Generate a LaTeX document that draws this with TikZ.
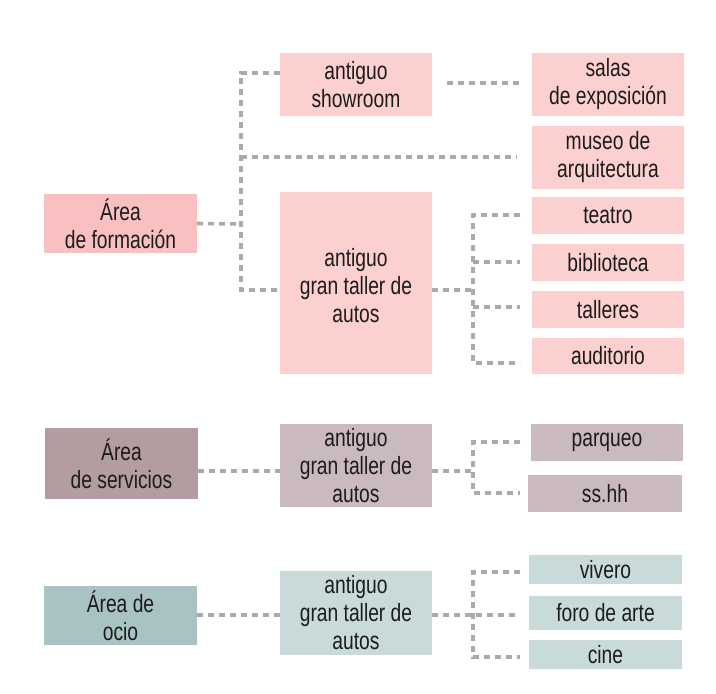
\documentclass[tikz,border=0pt]{standalone}
\usepackage{fontspec}
\setmainfont[FakeStretch=0.77]{Liberation Sans}
\definecolor{pinkA}{HTML}{F8C0C1}
\definecolor{pinkB}{HTML}{FDD0D0}
\definecolor{mauveA}{HTML}{B49DA1}
\definecolor{mauveB}{HTML}{CBBABD}
\definecolor{tealA}{HTML}{A9C3C3}
\definecolor{tealB}{HTML}{C9DADA}
\definecolor{txt}{HTML}{1C1C1C}
\definecolor{dash}{HTML}{AAAAAA}
\begin{document}
\begin{tikzpicture}[x=1pt,y=-1pt,
  box/.style={rectangle, inner sep=0pt, align=center, text=txt,
    font=\fontsize{25}{28}\selectfont},
  dl/.style={draw=dash, line width=3.6pt, dash pattern=on 6pt off 5pt}]
\useasboundingbox[fill=white] (0,0) rectangle (716,694);
% --- formacion ---
\node[box, fill=pinkA, minimum width=153pt, minimum height=59pt] (af) at (120.5,223.5) {Área\\de formación};
\node[box, fill=pinkB, minimum width=152pt, minimum height=63pt] (sh) at (356,84.5) {antiguo\\showroom};
\node[box, fill=pinkB, minimum width=152pt, minimum height=63pt] (sal) at (608,84.5) {salas\\de exposición};
\node[box, fill=pinkB, minimum width=152pt, minimum height=63pt] (mus) at (608,157.5) {museo de\\arquitectura};
\node[box, fill=pinkB, minimum width=152pt, minimum height=182pt] (gt1) at (356,283) {\raisebox{-12pt}[0pt][0pt]{\begin{tabular}{@{}c@{}}antiguo\\gran taller de\\autos\end{tabular}}};
\node[box, fill=pinkB, minimum width=152pt, minimum height=37pt] (tea) at (608,215.5) {teatro};
\node[box, fill=pinkB, minimum width=152pt, minimum height=37pt] (bib) at (608,262.5) {biblioteca};
\node[box, fill=pinkB, minimum width=152pt, minimum height=37pt] (tal) at (608,309.5) {talleres};
\node[box, fill=pinkB, minimum width=152pt, minimum height=36pt] (aud) at (608,356) {auditorio};
% --- servicios ---
\node[box, fill=mauveA, minimum width=153pt, minimum height=71pt] (as) at (121.5,463.5) {Área\\de servicios};
\node[box, fill=mauveB, minimum width=152pt, minimum height=83pt] (gt2) at (356,465.5) {antiguo\\gran taller de\\autos};
\node[box, fill=mauveB, minimum width=152pt, minimum height=37pt] (par) at (607,442.5) {parqueo};
\node[box, fill=mauveB, minimum width=154pt, minimum height=37pt] (ss) at (605,493.5) {ss.hh};
% --- ocio ---
\node[box, fill=tealA, minimum width=153pt, minimum height=59pt] (ao) at (120.5,615.5) {Área de\\ocio};
\node[box, fill=tealB, minimum width=152pt, minimum height=84pt] (gt3) at (356,613) {antiguo\\gran taller de\\autos};
\node[box, fill=tealB, minimum width=153pt, minimum height=29pt] (viv) at (605.5,569.5) {vivero};
\node[box, fill=tealB, minimum width=153pt, minimum height=34pt] (foro) at (605.5,613) {foro de arte};
\node[box, fill=tealB, minimum width=153pt, minimum height=29pt] (cine) at (605.5,654.5) {cine};
% --- connectors formacion ---
\coordinate (s0) at (241,224);
\coordinate (s1) at (241,73);
\coordinate (s2) at (241,157);
\coordinate (s3) at (241,290);
\coordinate (m2) at (517,157);
\draw[dl] (af.east) -- (s0);
\draw[dl] (sh.west |- s1) -- (s1) -- (s3) -- (gt1.west |- s3);
\draw[dl] (s2) -- (m2);
\coordinate (r1) at (447,83);
\coordinate (r2) at (520,83);
\draw[dl] (r1) -- (r2);
\coordinate (b0) at (473,290);
\coordinate (b1) at (473,215);
\coordinate (b2) at (473,262);
\coordinate (b3) at (473,307);
\coordinate (b4) at (473,363);
\coordinate (e1) at (520,215);
\coordinate (e2) at (520,262);
\coordinate (e3) at (520,307);
\coordinate (e4) at (520,363);
\draw[dl] (gt1.east |- b0) -- (b0);
\draw[dl] (e1) -- (b1) -- (b4) -- (e4);
\draw[dl] (b2) -- (e2);
\draw[dl] (b3) -- (e3);
% --- connectors servicios ---
\coordinate (c0) at (473,471);
\coordinate (c1) at (473,442);
\coordinate (c2) at (473,493);
\coordinate (f1) at (520,442);
\coordinate (f2) at (520,493);
\draw[dl] (as.east |- c0) -- (gt2.west |- c0);
\draw[dl] (gt2.east |- c0) -- (c0);
\draw[dl] (f1) -- (c1) -- (c2) -- (f2);
% --- connectors ocio ---
\coordinate (d0) at (473,615);
\coordinate (d1) at (473,572);
\coordinate (d2) at (473,657);
\coordinate (g0) at (520,615);
\coordinate (g1) at (520,572);
\coordinate (g2) at (520,657);
\draw[dl] (ao.east |- d0) -- (gt3.west |- d0);
\draw[dl] (gt3.east |- d0) -- (g0);
\draw[dl] (g1) -- (d1) -- (d2) -- (g2);
\end{tikzpicture}
\end{document}
